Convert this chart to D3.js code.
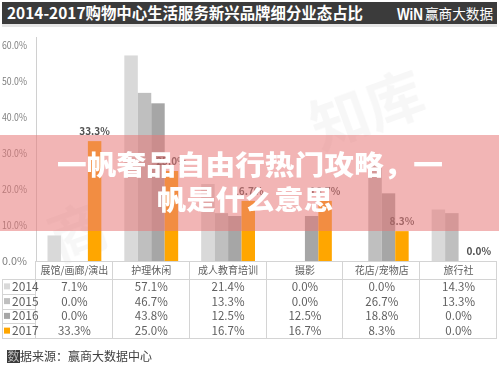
<!DOCTYPE html>
<html><head><meta charset="utf-8">
<script src="https://cdn.jsdelivr.net/npm/d3@7/dist/d3.min.js"></script>
<style>
body{margin:0;background:#fff;}
svg{display:block;font-family:"Noto Sans CJK SC","Noto Sans",sans-serif;}
</style></head>
<body><svg id="c" width="499" height="366"></svg>
<script>
const title = "2014-2017购物中心生活服务新兴品牌细分业态占比";
const logoText = "赢商大数据";
const categories = ["展馆/画廊/演出","护理休闲","成人教育培训","摄影","花店/宠物店","旅行社"];
const series = ["2014","2015","2016","2017"];
const v2014 = [7.1,57.1,21.4,0.0,0.0,14.3];
const v2015 = [0.0,46.7,13.3,0.0,26.7,13.3];
const v2016 = [0.0,43.8,12.5,12.5,18.8,0.0];
const v2017 = [33.3,25.0,16.7,16.7,8.3,0.0];
const yTicks = [0,10,20,30,40,50,60];
const colors = ["#d9d9d9","#bfbfbf","#a6a6a6","#ffa600"];
const sourceHead = "数";
const sourceRest = "据来源：赢商大数据中心";
const overlayLines = ["一帆奢品自由行热门攻略，一","帆是什么意思"];

const values = [v2014,v2015,v2016,v2017];
const svg = d3.select("#c");

// title bar
svg.append("rect").attr("x",2).attr("y",24).attr("width",495).attr("height",3).attr("fill","#e6e6e6");
svg.append("rect").attr("x",2).attr("y",2).attr("width",495).attr("height",22).attr("fill","#3b3b3b");
svg.append("text").attr("x",7).attr("y",19).attr("fill","#fff").attr("font-size",15.5).attr("font-weight",700)
  .attr("textLength",356).attr("lengthAdjust","spacingAndGlyphs").text(title);
svg.append("text").attr("x",397).attr("y",19.5).attr("fill","#fff").attr("font-size",17).attr("font-weight",900)
  .attr("font-family","Arial, 'Liberation Sans', sans-serif").attr("textLength",26).attr("lengthAdjust","spacingAndGlyphs").text("WiN");
svg.append("text").attr("x",425).attr("y",18.5).attr("fill","#fff").attr("font-size",13.5)
  .attr("textLength",68).attr("lengthAdjust","spacingAndGlyphs").text(logoText);

// scales
const x = d3.scaleBand().domain(categories).range([36,497]);
const xs = d3.scaleBand().domain(series).range([11.5, x.bandwidth()-11.5]);
const y = d3.scaleLinear().domain([0,60]).range([261,45]);

// watermark
const wm = svg.append("g").attr("fill","#000").attr("opacity",0.035).attr("font-size",58).attr("font-weight",700);
wm.append("text").attr("transform","translate(58,262) rotate(-20)").text("商");
wm.append("text").attr("transform","translate(320,150) rotate(-20)").text("知库");

// y axis labels
svg.append("g").selectAll("text").data(yTicks).join("text")
  .attr("x",27).attr("y",d=>y(d)+4).attr("text-anchor","end")
  .attr("font-size",10).attr("fill","#808080").attr("textLength",25).attr("lengthAdjust","spacingAndGlyphs")
  .text(d=>d.toFixed(1)+"%");
svg.append("line").attr("x1",36.5).attr("x2",36.5).attr("y1",y(60)-8).attr("y2",y(0)).attr("stroke","#d0d0d0");

// bars
const rows = [];
series.forEach((s,si)=>categories.forEach((c,ci)=>rows.push({s,si,c,v:values[si][ci]})));
svg.append("g").selectAll("rect").data(rows).join("rect")
  .attr("x",d=>x(d.c)+xs(d.s)).attr("width",xs.bandwidth())
  .attr("y",d=>y(d.v)).attr("height",d=>y(0)-y(d.v)).attr("fill",d=>colors[d.si]);

// labels for 2017
svg.append("g").selectAll("text").data(rows.filter(d=>d.s==="2017")).join("text")
  .attr("x",d=>x(d.c)+xs(d.s)+xs.bandwidth()/2).attr("y",d=>y(d.v)-6)
  .attr("text-anchor","middle").attr("font-size",10).attr("font-weight",700).attr("fill","#505050")
  .text(d=>d.v.toFixed(1)+"%");

// table
const tb = svg.append("g");
const rowY = d3.scaleBand().domain(series).range([279,338]);
const lc = "#d4d4d4";
tb.append("line").attr("x1",36).attr("x2",497).attr("y1",261.5).attr("y2",261.5).attr("stroke",lc);
tb.append("line").attr("x1",2).attr("x2",497).attr("y1",279.5).attr("y2",279.5).attr("stroke",lc);
tb.append("line").attr("x1",2).attr("x2",497).attr("y1",338.5).attr("y2",338.5).attr("stroke",lc);
series.slice(1).forEach(s=>tb.append("line").attr("x1",2).attr("x2",36).attr("y1",Math.round(rowY(s))+0.5).attr("y2",Math.round(rowY(s))+0.5).attr("stroke",lc));
tb.append("line").attr("x1",2.5).attr("x2",2.5).attr("y1",279).attr("y2",338).attr("stroke",lc);
[...categories.map(c=>x(c)), 497].forEach(xx=>tb.append("line").attr("x1",Math.round(xx)-0.5).attr("x2",Math.round(xx)-0.5).attr("y1",261).attr("y2",338).attr("stroke",lc));
tb.selectAll(".hd").data(categories).join("text")
  .attr("x",d=>x(d)+x.bandwidth()/2).attr("y",274).attr("text-anchor","middle")
  .attr("font-size",10).attr("fill","#606060").text(d=>d);
series.forEach((s,si)=>{
  const cy = rowY(s)+rowY.bandwidth()/2;
  tb.append("rect").attr("x",4).attr("y",cy-3).attr("width",6).attr("height",6).attr("fill",colors[si]);
  tb.append("text").attr("x",12).attr("y",cy+4.5).attr("font-size",12).attr("fill","#606060").text(s);
  tb.selectAll(".r"+s).data(categories).join("text")
    .attr("x",d=>x(d)+x.bandwidth()/2).attr("y",cy+4.5).attr("text-anchor","middle")
    .attr("font-size",11.5).attr("fill","#606060").text((d,ci)=>values[si][ci].toFixed(1)+"%");
});

// source
svg.append("rect").attr("x",7).attr("y",350).attr("width",13).attr("height",13).attr("fill","#3b3b3b");
svg.append("text").attr("x",7.5).attr("y",360.5).attr("font-size",12).attr("fill","#bbb").text(sourceHead);
svg.append("text").attr("x",20).attr("y",360.5).attr("font-size",12).attr("fill","#404040").text(sourceRest);

// overlay
svg.append("rect").attr("x",0).attr("y",135).attr("width",499).attr("height",96).attr("fill","rgb(232,120,120)").attr("opacity",0.55);
svg.append("text").attr("x",250).attr("y",175).attr("text-anchor","middle").attr("fill","#fff")
  .attr("font-size",27).attr("font-weight",900).attr("textLength",386).attr("lengthAdjust","spacingAndGlyphs").text(overlayLines[0]);
svg.append("text").attr("x",245).attr("y",210).attr("text-anchor","middle").attr("fill","#fff")
  .attr("font-size",27).attr("font-weight",900).attr("textLength",176).attr("lengthAdjust","spacingAndGlyphs").text(overlayLines[1]);
</script></body></html>
